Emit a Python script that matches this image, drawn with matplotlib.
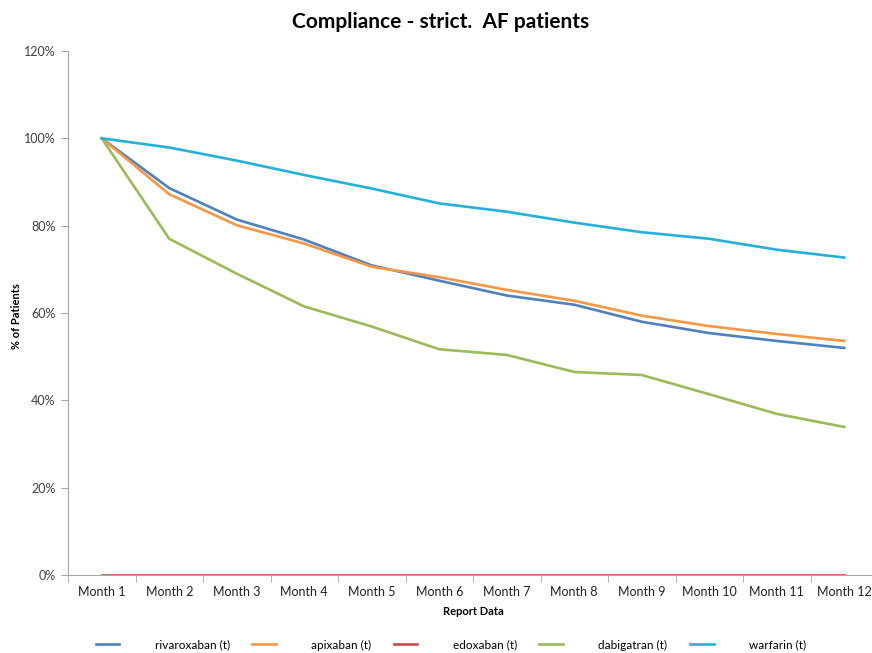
import numpy as np
import matplotlib.pyplot as plt
from matplotlib.ticker import PercentFormatter

plt.rcParams['font.family'] = ['Lato', 'DejaVu Sans']

# Data (% of patients still compliant)
months = ['Month 1', 'Month 2', 'Month 3', 'Month 4', 'Month 5', 'Month 6',
          'Month 7', 'Month 8', 'Month 9', 'Month 10', 'Month 11', 'Month 12']
rivaroxaban = [100, 88.6, 81.4, 76.8, 70.9, 67.4, 64.0, 61.9, 58.0, 55.4, 53.6, 52.0]
apixaban = [100, 87.2, 80.1, 75.9, 70.6, 68.2, 65.3, 62.8, 59.4, 57.0, 55.2, 53.6]
edoxaban = [0, 0, 0, 0, 0, 0, 0, 0, 0, 0, 0, 0]
dabigatran = [100, 77.0, 69.0, 61.5, 56.9, 51.7, 50.4, 46.5, 45.8, 41.4, 36.9, 33.9]
warfarin = [100, 97.9, 94.9, 91.6, 88.5, 85.1, 83.2, 80.7, 78.5, 77.0, 74.5, 72.7]

series = [
    ('rivaroxaban (t)', rivaroxaban, '#4F81BD'),
    ('apixaban (t)', apixaban, '#F79646'),
    ('edoxaban (t)', edoxaban, '#C0504D'),
    ('dabigatran (t)', dabigatran, '#9BBB59'),
    ('warfarin (t)', warfarin, '#23B1DA'),
]

fig = plt.figure(figsize=(8.72, 6.53), dpi=100)
ax = fig.add_axes([68 / 872, 1 - 575 / 653, 810 / 872, 524 / 653])

x = np.arange(len(months))
for name, vals, col in series:
    ax.plot(x, vals, color=col, lw=1.9, label=name, solid_joinstyle='round')

ax.set_xlim(-0.5, len(months) - 0.5)
ax.set_ylim(0, 120)
ax.set_yticks(np.arange(0, 121, 20))
ax.yaxis.set_major_formatter(PercentFormatter(decimals=0))
ax.set_xticks(x)
ax.set_xticklabels(months)
ax.set_xticks(np.arange(-0.5, len(months), 1), minor=True)

gray = '#A6A6A6'
for s in ['top', 'right']:
    ax.spines[s].set_visible(False)
for s in ['left', 'bottom']:
    ax.spines[s].set_color(gray)
ax.tick_params(axis='y', length=5, color=gray, labelsize=9, labelcolor='#404040', pad=4)
ax.tick_params(axis='x', which='major', length=0, labelsize=9, labelcolor='#222222', pad=8)
ax.tick_params(axis='x', which='minor', length=5, color=gray)

fig.text(17 / 872, 1 - 316 / 653, '% of Patients', rotation=90, ha='center', va='center',
         fontsize=8, fontweight='bold')
ax.set_xlabel('Report Data', fontsize=8, fontweight='bold', labelpad=6)
fig.text(0.505, 1 - 22 / 653, 'Compliance - strict.  AF patients', ha='center', va='center',
         fontsize=15, fontweight='bold')

fig.legend(loc='center', bbox_to_anchor=(0.517, 1 - 645 / 653), ncol=5, frameon=False,
           fontsize=8.5, handlelength=2.0, handletextpad=3.0, columnspacing=1.9)

fig.savefig('out.png', dpi=100)
